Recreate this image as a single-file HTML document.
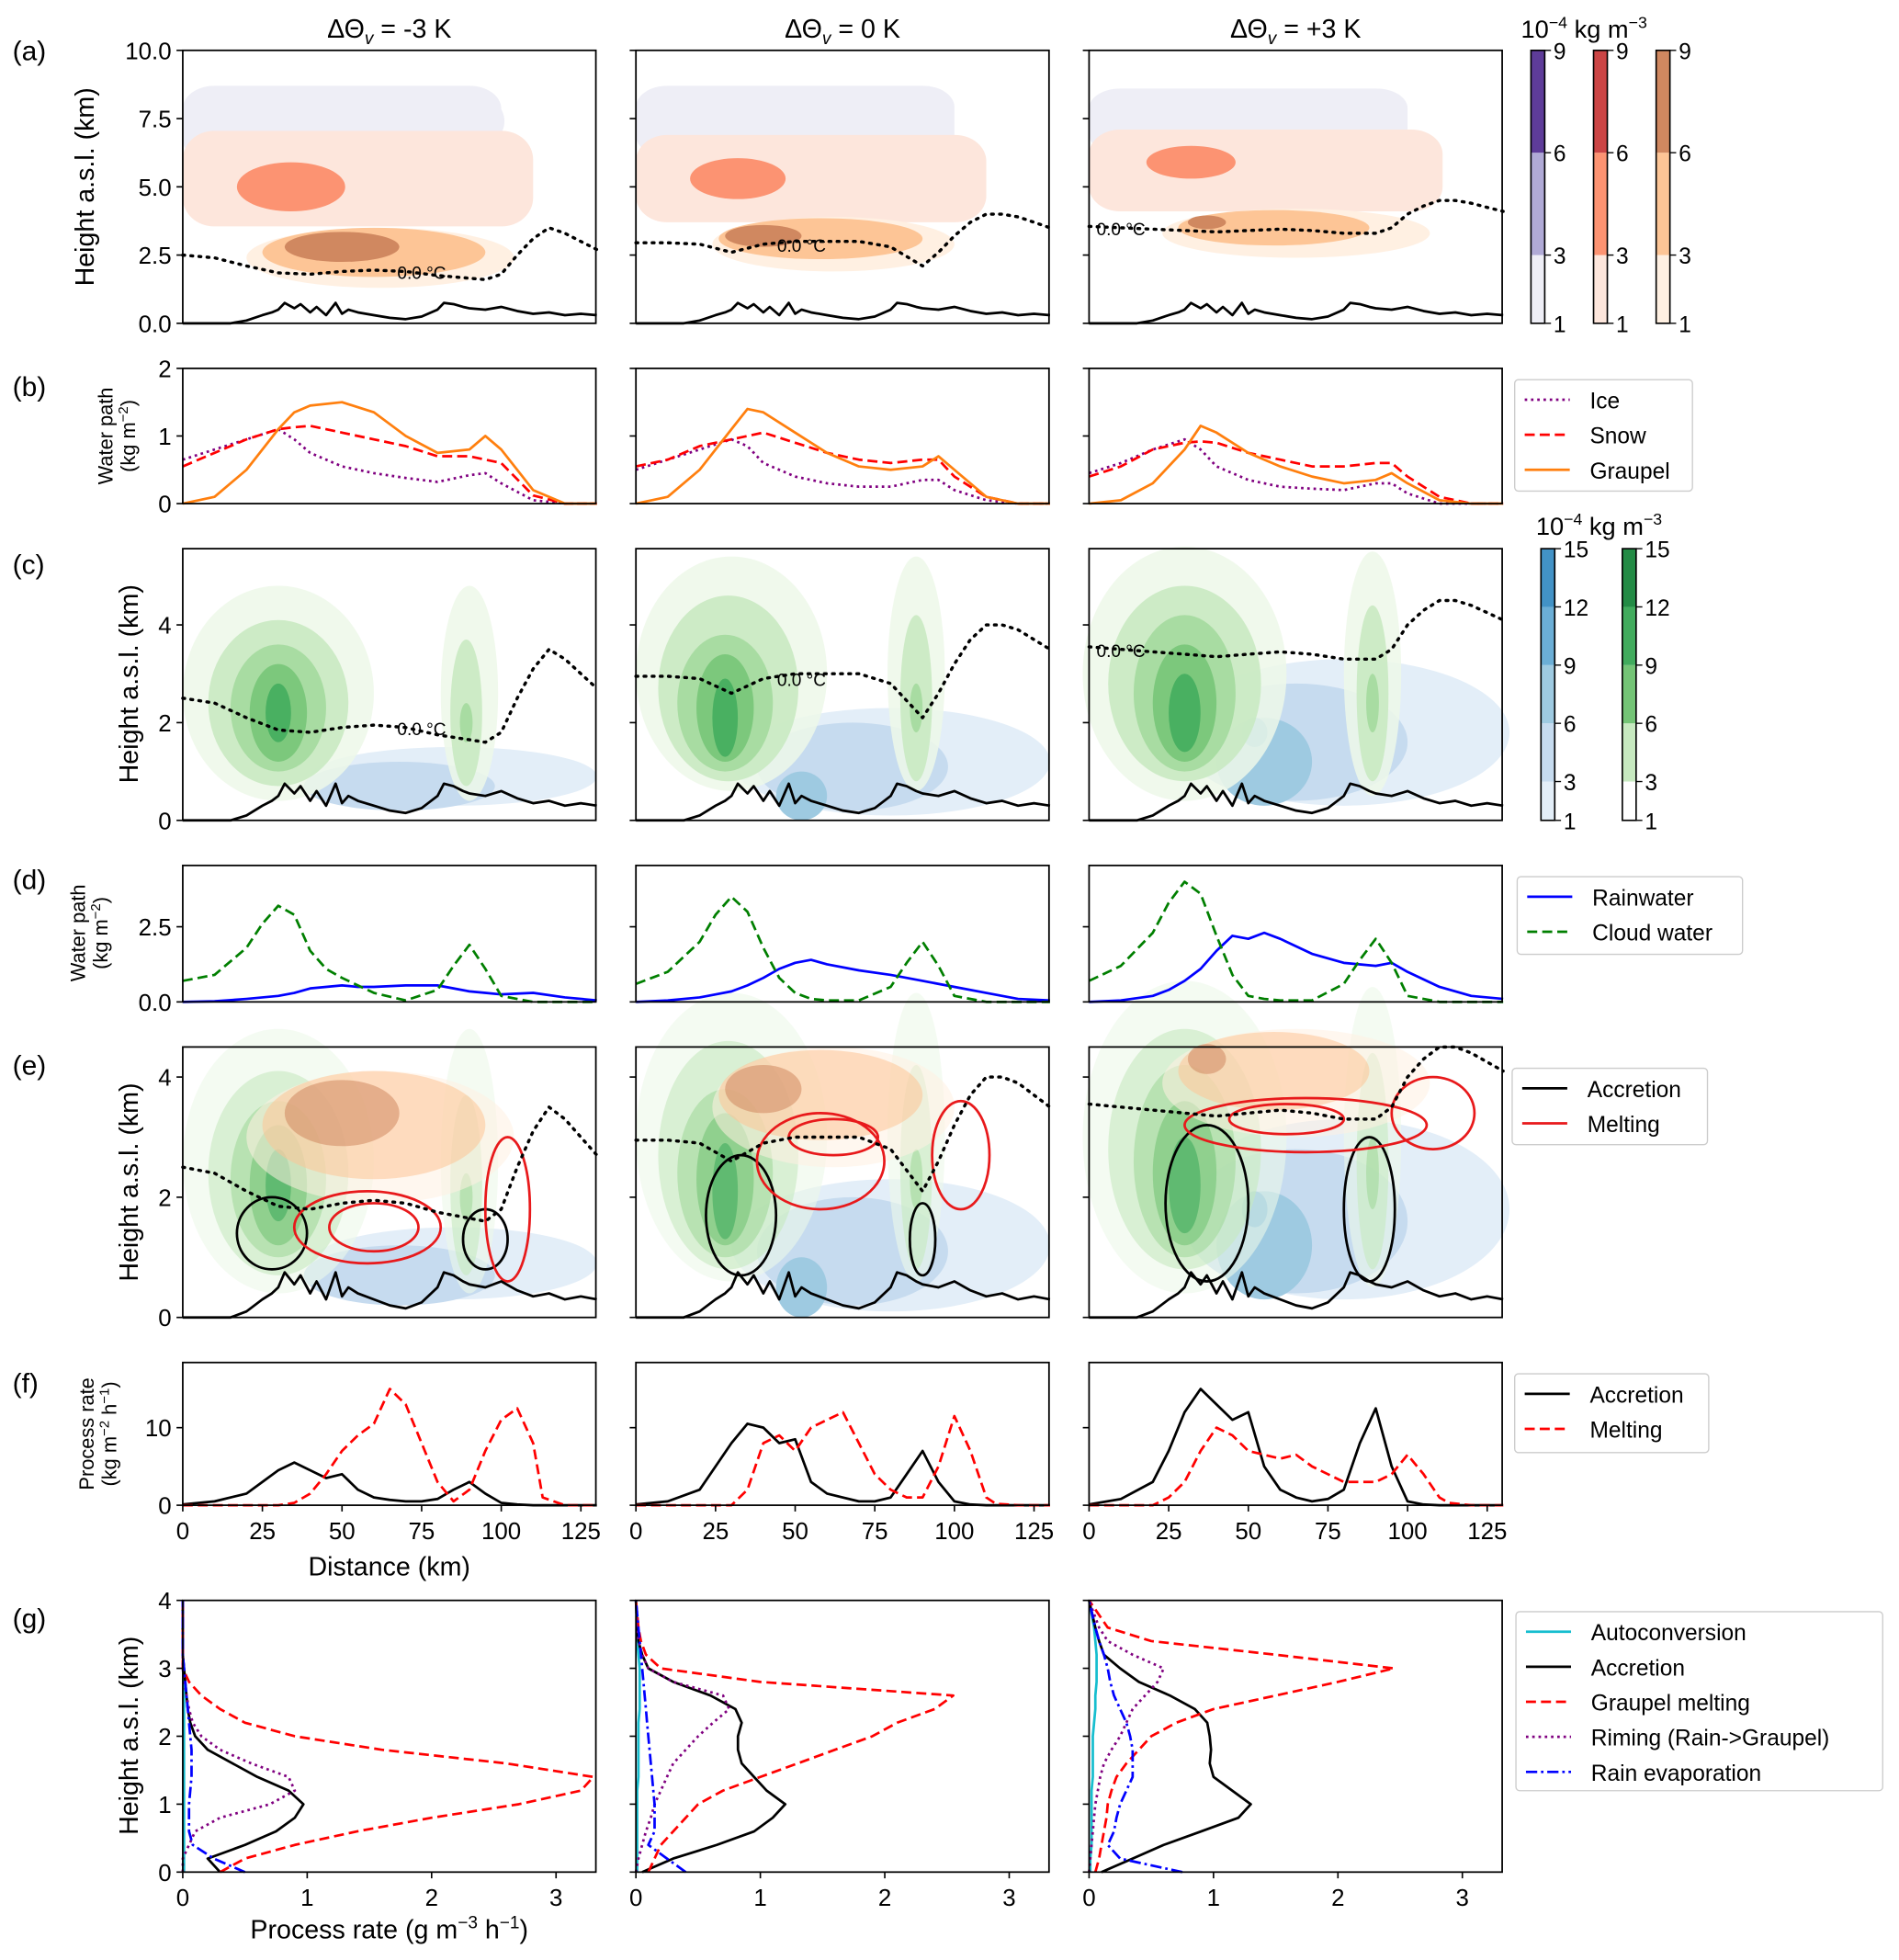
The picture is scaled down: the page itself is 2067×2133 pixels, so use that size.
<!DOCTYPE html>
<html><head><meta charset="utf-8"><style>
html,body{margin:0;padding:0;background:#fff}
svg{display:block}
text{font-family:"Liberation Sans","DejaVu Sans",sans-serif;fill:#000}
</style></head><body>
<svg id="fig" width="2067" height="2133" viewBox="0 0 1517 1565" xmlns="http://www.w3.org/2000/svg"></svg>
<script>
// ---------- DATA ----------
const distKm=[0,10,20,30,35,40,50,60,70,80,90,95,100,110,120,130];
const iceWP=[[0.65,0.8,0.95,1.1,0.95,0.75,0.55,0.45,0.38,0.32,0.42,0.45,0.3,0.05,0,0],
 [0.5,0.65,0.8,0.95,0.85,0.6,0.4,0.3,0.25,0.25,0.35,0.35,0.2,0.05,0,0],
 [0.45,0.6,0.8,0.95,0.8,0.55,0.35,0.25,0.22,0.2,0.3,0.3,0.15,0,0,0]];
const snowWP=[[0.55,0.75,0.95,1.1,1.13,1.15,1.05,0.95,0.85,0.7,0.7,0.65,0.6,0.12,0,0],
 [0.55,0.65,0.85,0.95,1.0,1.05,0.9,0.75,0.65,0.6,0.65,0.65,0.4,0.1,0,0],
 [0.4,0.55,0.8,0.9,0.92,0.9,0.75,0.65,0.55,0.55,0.6,0.6,0.4,0.1,0,0]];
const graupelWP=[[0,0.1,0.5,1.1,1.35,1.45,1.5,1.35,1.0,0.75,0.8,1.0,0.8,0.2,0,0],
 [0,0.1,0.5,1.1,1.4,1.35,1.05,0.75,0.55,0.5,0.55,0.7,0.5,0.1,0,0],
 [0,0.05,0.3,0.8,1.15,1.05,0.75,0.55,0.4,0.3,0.35,0.45,0.3,0.05,0,0]];
const distKm2=[0,10,20,25,30,35,40,45,50,55,60,70,80,85,90,95,100,110,120,130];
const cloudWP=[[0.7,0.9,1.8,2.6,3.2,2.9,1.7,1.1,0.8,0.55,0.3,0.05,0.4,1.2,1.9,1.1,0.2,0,0,0],
 [0.6,1.0,2.0,2.9,3.5,3.0,1.8,0.8,0.3,0.1,0.05,0.05,0.5,1.3,2.0,1.2,0.2,0,0,0],
 [0.7,1.2,2.3,3.3,4.0,3.6,2.2,0.9,0.2,0.1,0.05,0.05,0.6,1.4,2.1,1.3,0.2,0,0,0]];
const rainWP=[[0,0.02,0.1,0.15,0.2,0.3,0.45,0.5,0.55,0.5,0.5,0.55,0.55,0.45,0.35,0.3,0.25,0.3,0.15,0.05],
 [0,0.05,0.15,0.25,0.35,0.55,0.8,1.1,1.3,1.4,1.25,1.05,0.9,0.8,0.7,0.6,0.5,0.3,0.1,0.05],
 [0,0.05,0.2,0.4,0.7,1.1,1.7,2.2,2.1,2.3,2.1,1.6,1.3,1.25,1.2,1.3,1.0,0.5,0.2,0.1]];
const distKm3=[0,10,20,25,30,35,40,45,50,55,60,65,70,75,80,85,90,95,100,105,110,113,120,130];
const accrRate=[[0.1,0.5,1.5,3,4.5,5.5,4.5,3.5,4,2,1,0.7,0.5,0.5,0.8,2,3,1.5,0.3,0.1,0,0,0,0],
 [0.1,0.5,2,5,8,10.5,10,8,8.5,3,1.5,1,0.5,0.5,1,4,7,3,0.5,0.1,0,0,0,0],
 [0.1,0.8,3,7,12,15,13,11,12,5,2,1,0.5,0.8,2,8,12.5,5,0.5,0.1,0,0,0,0]];
const meltRate=[[0,0,0,0,0,0.3,1.5,4,7,9,10.5,15,13,8,3,0.5,2,7,11,12.5,8,1,0,0],
 [0,0,0,0,0,2,8,9,7,10,11,12,8,4,2,1,1,5,11.5,7,1,0.2,0,0],
 [0,0,0,1,3,7,10,9,7,6.5,6,6.5,5,4,3,3,3,4,6.5,4,1,0.3,0,0]];
const terrainKm=[0,15,20,25,28,30,32,35,37,40,42,45,48,50,52,55,60,65,70,75,80,82,85,88,90,95,100,105,110,115,120,125,130];
const terrainH=[0,0,0.1,0.3,0.4,0.5,0.75,0.55,0.7,0.4,0.6,0.3,0.75,0.35,0.5,0.4,0.3,0.2,0.15,0.25,0.5,0.75,0.7,0.6,0.55,0.5,0.6,0.45,0.35,0.4,0.3,0.35,0.3];
const fzKm=[0,10,20,30,40,50,60,70,80,90,95,100,105,110,115,120,125,130];
const fzH=[[2.5,2.4,2.1,1.85,1.8,1.9,1.95,1.9,1.75,1.65,1.6,1.8,2.5,3.1,3.5,3.3,3.0,2.7],
 [2.95,2.95,2.9,2.6,2.9,3.0,3.0,3.0,2.8,2.1,2.6,3.2,3.7,4.0,4.0,3.9,3.7,3.5],
 [3.55,3.5,3.45,3.4,3.35,3.4,3.45,3.4,3.3,3.3,3.5,4.0,4.3,4.5,4.5,4.4,4.25,4.1]];
const profH=[0,0.2,0.4,0.6,0.8,1.0,1.2,1.4,1.6,1.8,2.0,2.2,2.4,2.6,2.8,3.0,3.2,3.4,3.6,4.0];
const accrProf=[[0.3,0.2,0.5,0.75,0.9,0.97,0.85,0.6,0.4,0.2,0.1,0.06,0.04,0.03,0.02,0.01,0,0,0,0],
 [0.05,0.3,0.65,0.95,1.1,1.2,1.05,0.95,0.85,0.82,0.82,0.85,0.8,0.6,0.3,0.1,0.05,0.02,0.01,0],
 [0.1,0.35,0.6,0.9,1.2,1.3,1.15,1.0,0.97,0.98,0.97,0.95,0.85,0.65,0.4,0.25,0.12,0.08,0.05,0]];
const meltProf=[[0.3,0.5,0.9,1.4,2.0,2.7,3.2,3.3,2.6,1.6,0.9,0.5,0.3,0.15,0.05,0,0,0,0,0],
 [0.1,0.15,0.2,0.3,0.4,0.5,0.7,1.0,1.3,1.6,1.9,2.1,2.4,2.55,1.0,0.2,0.08,0.04,0.02,0],
 [0.05,0.08,0.1,0.12,0.14,0.15,0.18,0.22,0.3,0.4,0.5,0.7,1.0,1.5,2.0,2.45,1.5,0.5,0.15,0]];
const rimProf=[[0,0,0.05,0.1,0.3,0.7,0.9,0.85,0.55,0.3,0.15,0.08,0.05,0.03,0.01,0,0,0,0,0],
 [0,0.02,0.05,0.08,0.12,0.15,0.2,0.25,0.3,0.4,0.5,0.62,0.75,0.7,0.3,0.1,0.05,0.02,0.01,0],
 [0,0.01,0.02,0.03,0.04,0.05,0.07,0.09,0.12,0.18,0.25,0.3,0.35,0.45,0.55,0.6,0.35,0.15,0.08,0]];
const evapProf=[[0.5,0.25,0.08,0.05,0.05,0.05,0.06,0.07,0.07,0.07,0.06,0.05,0.04,0.03,0.02,0.01,0,0,0,0],
 [0.4,0.25,0.1,0.15,0.15,0.15,0.14,0.13,0.12,0.11,0.1,0.09,0.08,0.07,0.06,0.05,0.04,0.03,0.02,0],
 [0.75,0.25,0.15,0.2,0.22,0.25,0.3,0.35,0.35,0.35,0.33,0.3,0.25,0.2,0.17,0.15,0.12,0.08,0.05,0]];
const autoProf=[[0.01,0.01,0.01,0.01,0.01,0.01,0.01,0.01,0.01,0.01,0.01,0.01,0.01,0.01,0.01,0.01,0,0,0,0],
 [0.01,0.01,0.01,0.01,0.01,0.01,0.01,0.02,0.02,0.02,0.02,0.02,0.03,0.03,0.03,0.03,0.02,0.01,0.01,0],
 [0.01,0.01,0.02,0.02,0.02,0.02,0.02,0.03,0.03,0.03,0.03,0.04,0.05,0.05,0.06,0.06,0.06,0.05,0.04,0]];
// field blobs: [cx km, cy km, rx km, ry km, level]  (level-0 ice/snow layers drawn as rounded boxes)
const iceBlobs=[[[50,7.3,50,1.4,0],[93,7.4,8,0.9,0]],[[50,7.4,50,1.3,0],[90,7.4,8,0.7,0]],[[50,7.4,50,1.2,0],[93,7.5,6,0.7,0]]];
const snowBlobs=[[[55,5.3,55,1.75,0],[34,5.0,17,0.9,1]],[[55,5.3,55,1.6,0],[32,5.3,15,0.75,1]],[[55,5.6,56,1.5,0],[32,5.9,14,0.6,1]]];
const graupBlobs=[[[62,2.4,42,1.1,0],[60,2.6,35,0.9,1],[50,2.8,18,0.55,2]],[[62,2.9,38,1.0,0],[58,3.1,32,0.75,1],[40,3.2,12,0.4,2]],[[65,3.3,42,0.9,0],[58,3.5,30,0.65,1],[37,3.7,6,0.25,2]]];
const cloudBlobs=[[[30,2.6,30,2.2,0],[30,2.4,22,1.7,1],[30,2.3,15,1.3,2],[30,2.2,9,1.0,3],[30,2.2,4,0.6,4],[90,2.6,9,2.2,0],[89,2.2,5,1.5,1],[89,2.0,2,0.4,2]],
 [[30,3.0,30,2.4,0],[29,2.7,22,1.9,1],[28,2.4,15,1.4,2],[28,2.3,9,1.1,3],[28,2.1,4,0.8,4],[88,3.0,9,2.4,0],[88,2.5,5,1.7,1],[88,2.3,2,0.5,2]],
 [[30,3.0,32,2.6,0],[30,2.8,24,2.0,1],[30,2.6,16,1.6,2],[30,2.4,10,1.2,3],[30,2.2,5,0.8,4],[89,3.0,9,2.5,0],[89,2.6,5,1.8,1],[89,2.4,2,0.6,2]]];
const rainBlobs=[[[85,0.9,45,0.6,0],[68,0.7,30,0.5,1]],
 [[80,1.2,50,1.1,0],[68,1.1,30,0.9,1],[52,0.5,8,0.5,2]],
 [[80,1.8,52,1.5,0],[65,1.6,35,1.2,1],[55,1.2,15,0.9,2],[52,1.8,4,0.3,3]]];
// accretion/melting contour ellipses for (e): [cx,cy,rx,ry]
const accrCont=[[[28,1.4,11,0.6],[95,1.3,7,0.5]],[[33,1.7,11,1.0],[90,1.3,4,0.6]],[[37,1.9,13,1.3],[88,1.8,8,1.2]]];
const meltCont=[[[58,1.5,23,0.6],[60,1.5,14,0.4],[102,1.8,7,1.2]],[[58,2.6,20,0.8],[62,3.0,14,0.3],[102,2.7,9,0.9]],[[68,3.2,38,0.45],[62,3.3,18,0.25],[108,3.4,13,0.6]]];

// ---------- LAYOUT ----------
const svg=document.getElementById('fig');
const NS='http://www.w3.org/2000/svg';
const colX=[146,508,870], PW=330, XMAX=129.7;
const rows={a:[40,258,10],b:[294,402,2],c:[438,655,5.56],d:[691,800,4.54],e:[836,1052,4.5],f:[1088,1202,18.4],g:[1278,1495,4]};
function el(tag,attrs,parent,txt){const e=document.createElementNS(NS,tag);for(const k in attrs)e.setAttribute(k,attrs[k]);if(txt!==undefined)e.textContent=txt;(parent||svg).appendChild(e);return e;}
function sx(c,v,xmax){return colX[c]+v/(xmax||XMAX)*PW;}
function sy(r,v){const R=rows[r];return R[1]-v/R[2]*(R[1]-R[0]);}
function line(c,r,xs,ys,style,name,xmax,swap){
  let pts=xs.map((x,i)=>swap? sx(c,ys[i],xmax).toFixed(1)+','+sy(r,x).toFixed(1) : sx(c,x,xmax).toFixed(1)+','+sy(r,ys[i]).toFixed(1)).join(' ');
  const p=el('polyline',Object.assign({points:pts,fill:'none','stroke-linejoin':'round'},style));
  
  
  return p;
}
function blob(c,r,b,color,name,box){
  const rxp=b[2]/XMAX*PW, ryp=b[3]/rows[r][2]*(rows[r][1]-rows[r][0]);
  let e;
  if(box){
    const x0=Math.max(colX[c],sx(c,b[0])-rxp);
    e=el('rect',{x:x0,y:sy(r,b[1])-ryp,width:sx(c,b[0])+rxp-x0,height:2*ryp,rx:25,ry:ryp*0.6,fill:color});
  } else e=el('ellipse',{cx:sx(c,b[0]),cy:sy(r,b[1]),rx:rxp,ry:ryp,fill:color});
  
  
}
const iceC=['#eeeef6','#b0aad6','#5e3c99'], snowC=['#fde6dc','#fc9372','#cb4545'], grC=['#fff0e2','#fdc596','#d08860'];
const greenC=['#edf8e9','#c7e9c0','#a1d99b','#74c476','#41ab5d','#238b45'];
const blueC=['#e3eef8','#c6dbef','#9ecae1','#6baed6','#4292c6','#2171b5'];
const tsuf=['-3 K','0 K','+3 K'];

for(let c=0;c<3;c++){
  const t=el('text',{x:colX[c]+PW/2,y:30,'font-size':21,'text-anchor':'middle'});
  
  t.innerHTML='ΔΘ<tspan font-size="14" dy="5" font-style="italic">v</tspan><tspan dy="-5"> = '+tsuf[c]+'</tspan>';

  // (a)
  iceBlobs[c].forEach((b,i)=>blob(c,'a',b,iceC[b[4]],'ice-contour',i===0));
  snowBlobs[c].forEach((b,i)=>blob(c,'a',b,snowC[b[4]],'snow-contour',i===0));
  graupBlobs[c].forEach(b=>blob(c,'a',b,grC[b[4]],'graupel-contour'));
  // (c)
  rainBlobs[c].forEach(b=>blob(c,'c',b,blueC[b[4]],'rain-contour'));
  cloudBlobs[c].forEach(b=>{const e=el('ellipse',{cx:sx(c,b[0]),cy:sy('c',b[1]),rx:b[2]/XMAX*PW,ry:b[3]/rows.c[2]*217,fill:greenC[b[4]],'fill-opacity':0.85});});
  // (e)
  rainBlobs[c].forEach(b=>blob(c,'e',b,blueC[b[4]],'rain-contour'));
  cloudBlobs[c].forEach(b=>{const e=el('ellipse',{cx:sx(c,b[0]),cy:sy('e',b[1]),rx:b[2]/XMAX*PW,ry:b[3]/rows.e[2]*216,fill:greenC[b[4]],'fill-opacity':0.6});});
  graupBlobs[c].forEach(b=>{const e=el('ellipse',{cx:sx(c,b[0]),cy:sy('e',b[1]+0.6),rx:b[2]/XMAX*PW,ry:b[3]/rows.e[2]*216,fill:grC[b[4]],'fill-opacity':0.55});});
  accrCont[c].forEach(b=>{const e=el('ellipse',{cx:sx(c,b[0]),cy:sy('e',b[1]),rx:b[2]/XMAX*PW,ry:b[3]/4.5*216,fill:'none',stroke:'#000','stroke-width':2});});
  meltCont[c].forEach(b=>{const e=el('ellipse',{cx:sx(c,b[0]),cy:sy('e',b[1]),rx:b[2]/XMAX*PW,ry:b[3]/4.5*216,fill:'none',stroke:'#e8191b','stroke-width':2});});

  ['a','c','e'].forEach(r=>{
    line(c,r,terrainKm,terrainH,{stroke:'#000','stroke-width':2},'terrain-line');
    line(c,r,fzKm,fzH[c],{stroke:'#000','stroke-width':2.5,'stroke-dasharray':'1.5 5','stroke-linecap':'round'},'freezing-level');
  });
  const lblX=[[75,1.9],[52,2.9],[10,3.5]];
  ['a','c'].forEach(r=>{const t=el('text',{x:sx(c,lblX[c][0]),y:sy(r,lblX[c][1])+6,'font-size':14,'text-anchor':'middle'},svg,'0.0 °C');});

  // (b)
  line(c,'b',distKm,iceWP[c],{stroke:'#800080','stroke-width':2,'stroke-dasharray':'2 3'},'ice-line');
  line(c,'b',distKm,snowWP[c],{stroke:'#ff0000','stroke-width':2,'stroke-dasharray':'8 4'},'snow-line');
  line(c,'b',distKm,graupelWP[c],{stroke:'#ff7f0e','stroke-width':2},'graupel-line');
  // (d)
  line(c,'d',distKm2,rainWP[c],{stroke:'#0000ff','stroke-width':2},'rainwater-line');
  line(c,'d',distKm2,cloudWP[c],{stroke:'#007f00','stroke-width':2,'stroke-dasharray':'8 4'},'cloudwater-line');
  // (f)
  line(c,'f',distKm3,accrRate[c],{stroke:'#000','stroke-width':2},'accretion-line');
  line(c,'f',distKm3,meltRate[c],{stroke:'#ff0000','stroke-width':2,'stroke-dasharray':'8 4'},'melting-line');
  // (g)
  const GX=3.32;
  line(c,'g',profH,autoProf[c],{stroke:'#17becf','stroke-width':2},'autoconversion-line',GX,true);
  line(c,'g',profH,accrProf[c],{stroke:'#000','stroke-width':2},'accretion-profile',GX,true);
  line(c,'g',profH,meltProf[c],{stroke:'#ff0000','stroke-width':2,'stroke-dasharray':'8 4'},'graupel-melting-profile',GX,true);
  line(c,'g',profH,rimProf[c],{stroke:'#800080','stroke-width':2,'stroke-dasharray':'2 3'},'riming-profile',GX,true);
  line(c,'g',profH,evapProf[c],{stroke:'#0000ff','stroke-width':2,'stroke-dasharray':'9 3 2 3'},'evaporation-profile',GX,true);
}

// axes frames & ticks
const yTicks={a:[[0,'0.0'],[2.5,'2.5'],[5,'5.0'],[7.5,'7.5'],[10,'10.0']],b:[[0,'0'],[1,'1'],[2,'2']],c:[[0,'0'],[2,'2'],[4,'4']],d:[[0,'0.0'],[2.5,'2.5']],e:[[0,'0'],[2,'2'],[4,'4']],f:[[0,'0'],[10,'10']],g:[[0,'0'],[1,'1'],[2,'2'],[3,'3'],[4,'4']]};
for(const r in rows){
  const R=rows[r];
  for(let c=0;c<3;c++){
    const f=el('rect',{x:colX[c],y:R[0],width:PW,height:R[1]-R[0],fill:'none',stroke:'#000','stroke-width':1.3});
    
    yTicks[r].forEach(t=>{const y=sy(r,t[0]);el('line',{x1:colX[c]-5,x2:colX[c],y1:y,y2:y,stroke:'#000','stroke-width':1.2});
      if(c===0){const tx=el('text',{x:colX[c]-9,y:y+7,'font-size':19,'text-anchor':'end'},svg,t[1]);}});
    if(r==='f'){[0,25,50,75,100,125].forEach(v=>{const x=sx(c,v);el('line',{x1:x,x2:x,y1:R[1],y2:R[1]+5,stroke:'#000','stroke-width':1.2});const tx=el('text',{x:x,y:R[1]+27,'font-size':19,'text-anchor':'middle'},svg,String(v));});}
    if(r==='g'){[0,1,2,3].forEach(v=>{const x=sx(c,v,3.32);el('line',{x1:x,x2:x,y1:R[1],y2:R[1]+5,stroke:'#000','stroke-width':1.2});const tx=el('text',{x:x,y:R[1]+27,'font-size':19,'text-anchor':'middle'},svg,String(v));});}
  }
}
const letters={a:48,b:316,c:458,d:710,e:858,f:1112,g:1300};
for(const r in letters){const t=el('text',{x:10,y:letters[r],'font-size':22},svg,'('+r+')');}
function ylab(x,y,txt,fs,name){const t=el('text',{x:0,y:0,'font-size':fs,'text-anchor':'middle',transform:`translate(${x},${y}) rotate(-90)`},svg);t.innerHTML=txt;}
ylab(75,149,'Height a.s.l. (km)',21,'y-axis-title-a');
ylab(90,348,'Water path',16,'y-axis-title-b');ylab(108,348,'(kg m<tspan font-size="11" dy="-6">−2</tspan><tspan dy="6">)</tspan>',16,'y-axis-title-b2');
ylab(110,546,'Height a.s.l. (km)',21,'y-axis-title-c');
ylab(68,745,'Water path',16,'y-axis-title-d');ylab(86,745,'(kg m<tspan font-size="11" dy="-6">−2</tspan><tspan dy="6">)</tspan>',16,'y-axis-title-d2');
ylab(110,944,'Height a.s.l. (km)',21,'y-axis-title-e');
ylab(75,1145,'Process rate',16,'y-axis-title-f');ylab(93,1145,'(kg m<tspan font-size="11" dy="-6">−2</tspan><tspan dy="6"> h</tspan><tspan font-size="11" dy="-6">−1</tspan><tspan dy="6">)</tspan>',16,'y-axis-title-f2');
ylab(110,1386,'Height a.s.l. (km)',21,'y-axis-title-g');
{const t=el('text',{x:311,y:1258,'font-size':21,'text-anchor':'middle'},svg,'Distance (km)');}
{const t=el('text',{x:311,y:1548,'font-size':21,'text-anchor':'middle'},svg);t.innerHTML='Process rate (g m<tspan font-size="14" dy="-8">−3</tspan><tspan dy="8"> h</tspan><tspan font-size="14" dy="-8">−1</tspan><tspan dy="8">)</tspan>';}

function cbar(x,y0,y1,vmax,levels,colors,name){
  const sc=v=>y1-(v-1)/(vmax-1)*(y1-y0);
  for(let i=0;i<colors.length;i++){el('rect',{x:x,y:sc(levels[i+1]),width:11,height:sc(levels[i])-sc(levels[i+1]),fill:colors[i]});}
  const f=el('rect',{x:x,y:y0,width:11,height:y1-y0,fill:'none',stroke:'#000','stroke-width':1.2});
  levels.forEach(v=>{const y=sc(v);el('line',{x1:x+11,x2:x+16,y1:y,y2:y,stroke:'#000'});el('text',{x:x+18,y:y+7,'font-size':18},svg,String(v));});
}
cbar(1223,40,258,9,[1,3,6,9],iceC,'ice-colorbar');
cbar(1273,40,258,9,[1,3,6,9],snowC,'snow-colorbar');
cbar(1323,40,258,9,[1,3,6,9],grC,'graupel-colorbar');
cbar(1231,438,655,15,[1,3,6,9,12,15],blueC.slice(0,5),'rain-colorbar');
cbar(1296,438,655,15,[1,3,6,9,12,15],['#ffffff','#c7e9c0','#74c476','#41ab5d','#238b45'],'cloud-colorbar');
[[1215,30],[1227,427]].forEach(p=>{const t=el('text',{x:p[0],y:p[1],'font-size':20},svg);t.innerHTML='10<tspan font-size="13" dy="-8">−4</tspan><tspan dy="8"> kg m</tspan><tspan font-size="13" dy="-8">−3</tspan>';});

function legend(x,y,w,h,entries,name){
  const g=el('g',{});
  el('rect',{x:x,y:y,width:w,height:h,fill:'#fff',stroke:'#ccc',rx:3},g);
  entries.forEach((e,i)=>{const yy=y+16+i*28;el('line',Object.assign({x1:x+8,x2:x+44,y1:yy,y2:yy,'stroke-width':2},e[1]),g);el('text',{x:x+60,y:yy+7,'font-size':18},g,e[0]);});
}
const sIce={stroke:'#800080','stroke-dasharray':'2 3'},sSnow={stroke:'#ff0000','stroke-dasharray':'8 4'},sGr={stroke:'#ff7f0e'};
legend(1210,303,142,89,[['Ice',sIce],['Snow',sSnow],['Graupel',sGr]],'legend-b');
legend(1212,700,180,62,[['Rainwater',{stroke:'#0000ff'}],['Cloud water',{stroke:'#007f00','stroke-dasharray':'8 4'}]],'legend-d');
legend(1208,853,156,61,[['Accretion',{stroke:'#000'}],['Melting',{stroke:'#e8191b'}]],'legend-e');
legend(1210,1097,155,63,[['Accretion',{stroke:'#000'}],['Melting',sSnow]],'legend-f');
legend(1211,1287,293,143,[['Autoconversion',{stroke:'#17becf'}],['Accretion',{stroke:'#000'}],['Graupel melting',sSnow],['Riming (Rain->Graupel)',sIce],['Rain evaporation',{stroke:'#0000ff','stroke-dasharray':'9 3 2 3'}]],'legend-g');
</script>
</body></html>
